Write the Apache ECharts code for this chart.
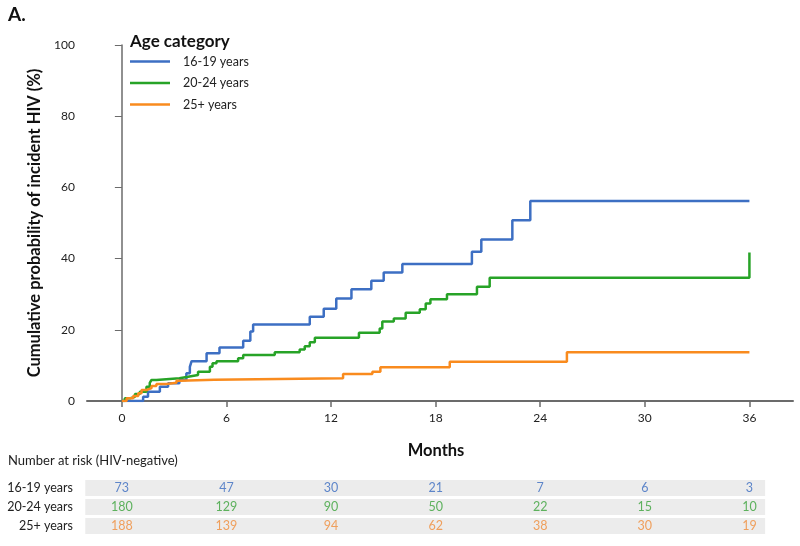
<!DOCTYPE html>
<html>
<head>
<meta charset="utf-8">
<script src="https://cdn.jsdelivr.net/npm/echarts@6/dist/echarts.min.js"></script>
<style>
  html, body { margin: 0; padding: 0; background: #fff; }
  #chart { width: 800px; height: 546px; }
</style>
</head>
<body>
<div id="chart"></div>
<script>
// Kaplan-Meier style curves: [month, cumulative probability %] at each step
var age1619 = [[0,0],[1.22,1.2],[1.5,2.6],[2.18,4.0],[2.65,5.0],[3.3,5.9],[3.7,7.8],[3.9,9.6],[4.0,11.2],
  [4.86,13.4],[5.6,15.0],[6.96,16.9],[7.37,19.5],[7.53,21.5],[10.78,23.7],[11.58,25.9],[12.3,28.8],
  [13.17,31.4],[14.31,33.8],[15.02,36.1],[16.09,38.5],[20.08,41.9],[20.62,45.4],[22.4,50.8],[23.43,56.2],[36,56.2]];
var age2024 = [[0,0],[0.17,0.75],[0.46,1.2],[0.75,2.0],[1.03,2.6],[1.41,4.0],[1.6,5.1],[1.7,5.9],[1.98,6.4],
  [3.3,6.8],[3.8,7.3],[4.37,8.2],[5.05,9.6],[5.2,10.6],[5.43,11.2],[6.67,12.0],[6.96,12.9],[8.77,13.7],
  [10.2,14.5],[10.49,15.4],[10.78,16.5],[11.07,17.8],[13.6,19.2],[14.79,20.4],[14.94,22.3],[15.6,23.2],
  [16.28,24.8],[17.09,25.8],[17.43,27.4],[17.7,28.6],[18.65,30.0],[20.37,32.1],[21.1,34.6],[36,34.6],[36,41.7]];
var age25 = [[0,0],[0.27,0.75],[0.65,1.4],[0.94,2.2],[1.13,3.1],[1.41,3.6],[1.7,4.2],[1.98,4.8],[2.56,5.1],
  [3.13,5.7],[3.33,6.0],[5.3,6.4],[12.69,7.6],[14.37,8.2],[14.83,9.5],[18.81,11.0],[25.53,13.7],[36,13.7]];

var seriesNames = ['16-19 years', '20-24 years', '25+ years'];
var xTicks = [0, 6, 12, 18, 24, 30, 36];

// number at risk table
var riskMonths = [0, 6, 12, 18, 24, 30, 36];
var risk1619 = [73, 47, 30, 21, 7, 6, 3];
var risk2024 = [180, 129, 90, 50, 22, 15, 10];
var risk25 = [188, 139, 94, 62, 38, 30, 19];

var lineColors = ['#3d6fc3', '#27a327', '#f98b1e'];
var numColors = ['#3a6bc0', '#3aa33a', '#f08c38'];
var FONT = 'Lato';

var myChart = echarts.init(document.getElementById('chart'));

function kmLine(name, data, color) {
  return {
    name: name, type: 'line', step: 'end', data: data,
    xAxisIndex: 0, yAxisIndex: 0,
    showSymbol: false, symbol: 'none',
    lineStyle: { color: color, width: 2.5 },
    itemStyle: { color: color }
  };
}

function riskRow(row, values, color) {
  return {
    type: 'scatter', xAxisIndex: 1, yAxisIndex: 1,
    symbolSize: 1, itemStyle: { color: 'rgba(0,0,0,0)' },
    data: riskMonths.map(function (m, i) { return [m, row, values[i]]; }),
    label: {
      show: true, position: 'inside', color: color,
      fontFamily: FONT, fontSize: 12.5,
      formatter: function (p) { return p.value[2]; }
    },
    z: 5
  };
}

myChart.setOption({
  animation: false,
  title: [
    { text: 'A.', left: 3, top: 0, textStyle: { fontFamily: FONT, fontWeight: 'bold', fontSize: 19, color: '#111' } },
    { text: 'Age category', left: 125, top: 28, textStyle: { fontFamily: FONT, fontWeight: 'bold', fontSize: 17, color: '#111' } }
  ],
  legend: {
    data: seriesNames,
    orient: 'vertical', left: 130, top: 55, padding: 0,
    icon: 'rect', itemWidth: 40, itemHeight: 2.5, itemGap: 8.5,
    textStyle: { fontFamily: FONT, fontSize: 12.5, color: '#222', padding: [0, 0, 0, 8] }
  },
  grid: [
    { left: 87, right: 7, top: 45, bottom: 145 },
    { left: 87, right: 7, top: 478.5, height: 57 }
  ],
  xAxis: [
    {
      type: 'value', gridIndex: 0, min: -2, max: 38.5,
      name: 'Months', nameLocation: 'middle', nameGap: 41,
      nameTextStyle: { fontFamily: FONT, fontWeight: 'bold', fontSize: 16.5, color: '#111', padding: [0, 8, 0, 0] },
      axisLine: { lineStyle: { color: '#6b6b6b', width: 2 } },
      axisTick: { show: true, customValues: xTicks, length: 6, lineStyle: { color: '#6b6b6b', width: 1.5 } },
      axisLabel: { customValues: xTicks, margin: 11, fontFamily: FONT, fontSize: 12, color: '#222' },
      splitLine: { show: false }
    },
    {
      type: 'value', gridIndex: 1, min: -2, max: 38.5, show: false
    }
  ],
  yAxis: [
    {
      type: 'value', gridIndex: 0, min: 0, max: 100, interval: 20,
      name: 'Cumulative probability of incident HIV (%)', nameLocation: 'middle', nameGap: 42,
      nameTextStyle: { fontFamily: FONT, fontWeight: 'bold', fontSize: 16.5, color: '#111' },
      axisLine: { show: true, lineStyle: { color: '#6b6b6b', width: 1.5 } },
      axisTick: { show: true, length: 7, lineStyle: { color: '#6b6b6b', width: 1 } },
      axisLabel: { margin: 12, fontFamily: FONT, fontSize: 12, color: '#222' },
      splitLine: { show: false }
    },
    {
      type: 'category', gridIndex: 1, inverse: true, data: seriesNames,
      axisLine: { show: false }, axisTick: { show: false },
      axisLabel: { margin: 14, fontFamily: FONT, fontSize: 12.5, color: '#222' },
      splitLine: { show: false }
    }
  ],
  graphic: [
    { type: 'text', left: 8, top: 454, style: { text: 'Number at risk (HIV-negative)', fontFamily: FONT, fontSize: 13, fill: '#222' } }
  ],
  series: [
    kmLine(seriesNames[0], age1619, lineColors[0]),
    kmLine(seriesNames[1], age2024, lineColors[1]),
    kmLine(seriesNames[2], age25, lineColors[2]),
    {
      type: 'custom', xAxisIndex: 1, yAxisIndex: 1, silent: true, z: 1,
      data: seriesNames.map(function (n) { return [n]; }),
      encode: { y: 0 },
      renderItem: function (params, api) {
        var a = api.coord([-2.1, api.value(0)]);
        var b = api.coord([36.9, api.value(0)]);
        return { type: 'rect', shape: { x: a[0], y: a[1] - 8, width: b[0] - a[0], height: 16 }, style: { fill: '#ececec' } };
      }
    },
    riskRow(seriesNames[0], risk1619, numColors[0]),
    riskRow(seriesNames[1], risk2024, numColors[1]),
    riskRow(seriesNames[2], risk25, numColors[2])
  ]
});
</script>
</body>
</html>
